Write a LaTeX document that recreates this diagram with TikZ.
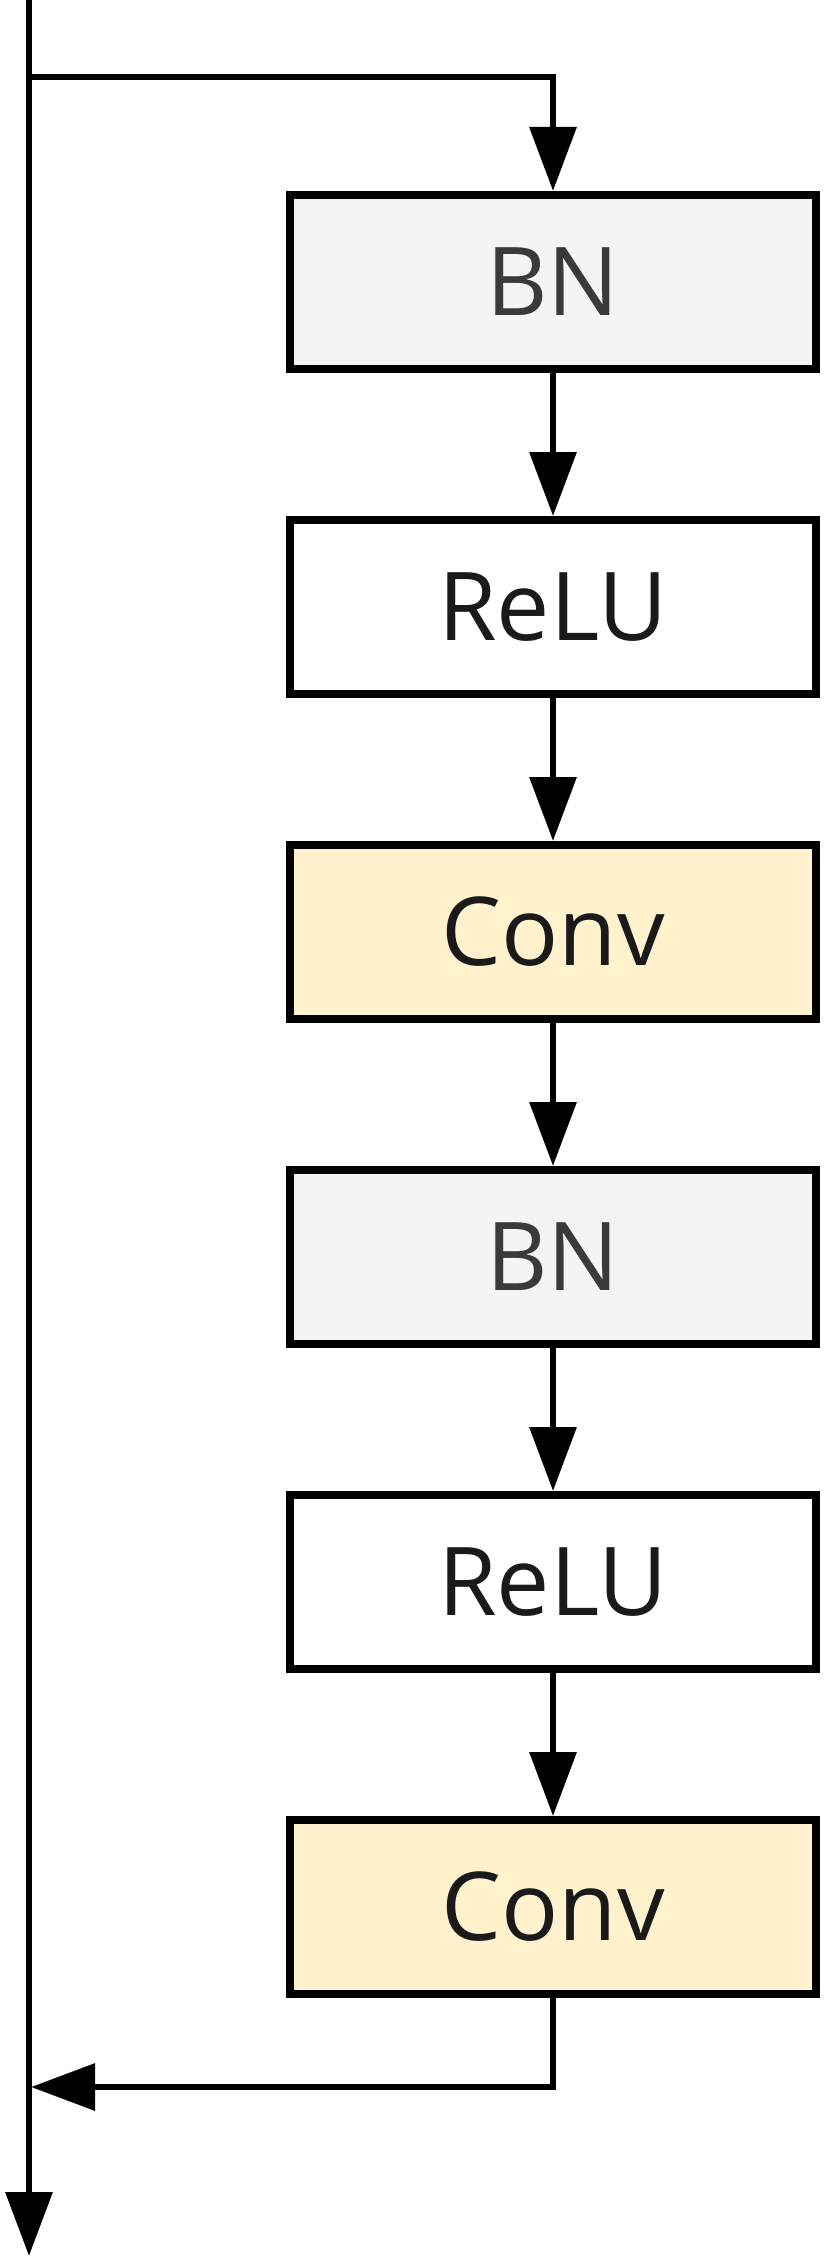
\documentclass[tikz,border=0pt]{standalone}
\usepackage{fontspec}
\setmainfont{Open Sans}
\usetikzlibrary{arrows.meta}
\definecolor{bnfill}{HTML}{F4F4F4}
\definecolor{convfill}{HTML}{FFF2CC}
\definecolor{bntext}{HTML}{3A3A3A}
\definecolor{txt}{HTML}{1A1A1A}
\begin{document}
\begin{tikzpicture}[x=1pt,y=1pt,
  layer/.style={draw=black, line width=8pt, minimum width=526pt, minimum height=174pt, inner sep=0pt, font=\fontsize{95}{110}\selectfont, text=txt},
  bnbox/.style={layer, fill=bnfill, text=bntext},
  relubox/.style={layer, fill=white},
  convbox/.style={layer, fill=convfill},
  flow/.style={line width=6.5pt, -{Triangle[length=64pt,width=46pt]}}]
\useasboundingbox (0,0) rectangle (827,-2261);
\node[bnbox]   (bn1)   at (553,-282)  {BN};
\node[relubox] (relu1) at (553,-607)  {ReLU};
\node[convbox] (conv1) at (553,-932)  {Conv};
\node[bnbox]   (bn2)   at (553,-1257) {BN};
\node[relubox] (relu2) at (553,-1582) {ReLU};
\node[convbox] (conv2) at (553,-1907) {Conv};
\coordinate (top) at (29,0);
\coordinate (split) at (29,-77);
\coordinate (corner1) at (553,-77);
\coordinate (corner2) at (553,-2087);
\coordinate (join) at (31,-2087);
\coordinate (out) at (29,-2256);
\draw[flow] (top) -- (out);
\draw[flow] (split) -- (corner1) -- (bn1.north);
\draw[flow] (bn1) -- (relu1);
\draw[flow] (relu1) -- (conv1);
\draw[flow] (conv1) -- (bn2);
\draw[flow] (bn2) -- (relu2);
\draw[flow] (relu2) -- (conv2);
\draw[flow] (conv2.south) -- (corner2) -- (join);
\end{tikzpicture}
\end{document}
